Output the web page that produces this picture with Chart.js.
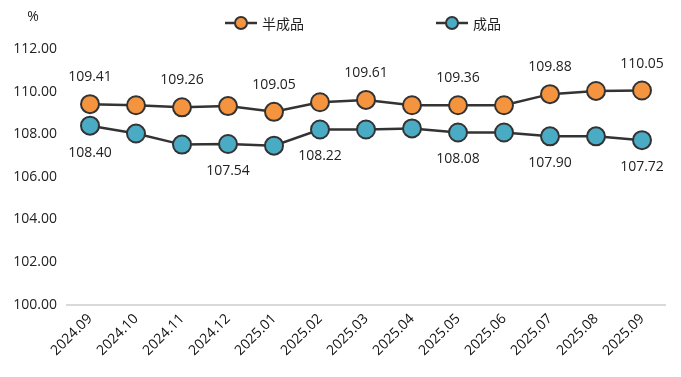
<!DOCTYPE html>
<html>
<head>
<meta charset="utf-8">
<script src="https://cdn.jsdelivr.net/npm/chart.js@4"></script>
<style>
  html, body { margin: 0; padding: 0; background: #fff; }
  #wrap { width: 681px; height: 377px; }
</style>
</head>
<body>
<div id="wrap"><canvas id="c" width="681" height="377"></canvas></div>
<script>
var months = ["2024.09", "2024.10", "2024.11", "2024.12", "2025.01", "2025.02", "2025.03",
              "2025.04", "2025.05", "2025.06", "2025.07", "2025.08", "2025.09"];
var semiFinished = [109.41, 109.36, 109.26, 109.32, 109.05, 109.50, 109.61, 109.36, 109.36, 109.36, 109.88, 110.03, 110.05];
var finished = [108.40, 108.03, 107.51, 107.54, 107.46, 108.22, 108.22, 108.27, 108.08, 108.08, 107.90, 107.90, 107.72];
var semiLabelAt = [0, 2, 4, 6, 8, 10, 12];
var finLabelAt = [0, 3, 5, 8, 10, 12];
var yTicks = [100, 102, 104, 106, 108, 110, 112];

var font = '"Open Sans", "Noto Sans CJK SC", sans-serif';

// value labels, legend and the % unit drawn by hand
var extras = {
    id: 'extras',
    afterDatasetsDraw: function (chart) {
        var ctx = chart.ctx;
        ctx.save();
        ctx.font = '14px ' + font;
        ctx.fillStyle = '#222';
        ctx.textAlign = 'center';
        ctx.textBaseline = 'middle';
        var shows = [semiLabelAt, finLabelAt];
        var offs = [-27, 27];
        chart.data.datasets.forEach(function (ds, i) {
            var meta = chart.getDatasetMeta(i);
            shows[i].forEach(function (k) {
                var p = meta.data[k];
                ctx.fillText(ds.data[k].toFixed(2), p.x, p.y + offs[i]);
            });
        });

        // unit
        ctx.fillText('%', 33, 17);

        // legend
        var items = [{ x: 241 }, { x: 452 }];
        ctx.textAlign = 'left';
        ctx.font = '14px "Noto Sans CJK SC", sans-serif';
        chart.data.datasets.forEach(function (ds, i) {
            var cx = items[i].x, cy = 23;
            ctx.strokeStyle = '#333';
            ctx.lineWidth = 2.5;
            ctx.beginPath();
            ctx.moveTo(cx - 16, cy);
            ctx.lineTo(cx + 16, cy);
            ctx.stroke();
            ctx.beginPath();
            ctx.arc(cx, cy, 6, 0, Math.PI * 2);
            ctx.fillStyle = ds.pointBackgroundColor;
            ctx.fill();
            ctx.lineWidth = 2;
            ctx.stroke();
            ctx.fillStyle = '#222';
            ctx.fillText(ds.label, cx + 21, cy + 1);
        });
        ctx.restore();
    }
};

new Chart(document.getElementById('c'), {
    type: 'line',
    data: {
        labels: months,
        datasets: [{
            label: '半成品',
            data: semiFinished,
            borderColor: '#333',
            borderWidth: 2.5,
            pointBackgroundColor: '#f5943f',
            pointBorderColor: '#333',
            pointBorderWidth: 2,
            pointRadius: 9,
            tension: 0
        }, {
            label: '成品',
            data: finished,
            borderColor: '#333',
            borderWidth: 2.5,
            pointBackgroundColor: '#4aabc4',
            pointBorderColor: '#333',
            pointBorderWidth: 2,
            pointRadius: 9,
            tension: 0
        }]
    },
    options: {
        responsive: false,
        animation: false,
        layout: { padding: { top: 49, left: 12, right: 16, bottom: 12 } },
        plugins: {
            legend: { display: false },
            tooltip: { enabled: false }
        },
        scales: {
            x: {
                offset: true,
                grid: { display: false, drawTicks: false },
                border: { display: true, color: '#d9d9d9', width: 2 },
                ticks: {
                    color: '#111',
                    font: { family: font, size: 14 },
                    minRotation: 45,
                    maxRotation: 45,
                    padding: 6
                },
                afterFit: function (axis) {
                    axis.paddingLeft = 0;
                }
            },
            y: {
                min: 100,
                max: 112,
                afterBuildTicks: function (axis) {
                    axis.ticks = yTicks.map(function (v) { return { value: v }; });
                },
                afterFit: function (axis) {
                    axis.width = 55;
                },
                grid: { display: false, drawTicks: false },
                border: { display: false },
                ticks: {
                    color: '#222',
                    font: { family: font, size: 14 },
                    padding: 10,
                    callback: function (v) { return v.toFixed(2); }
                }
            }
        }
    },
    plugins: [extras]
});
</script>
</body>
</html>
